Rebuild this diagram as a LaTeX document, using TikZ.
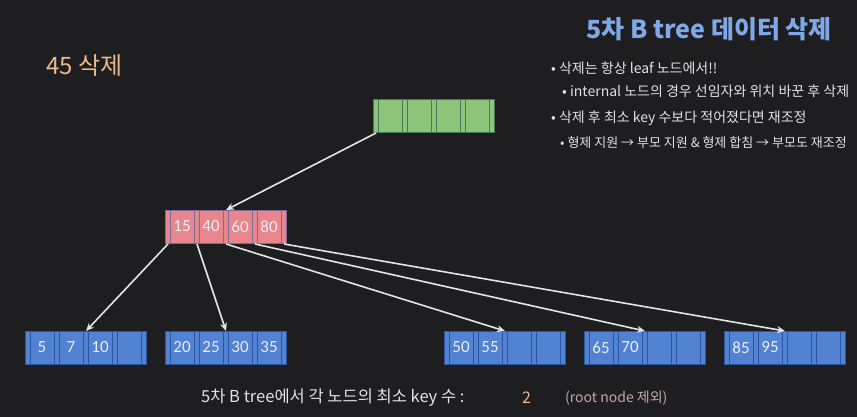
\documentclass[tikz,border=0pt]{standalone}
\usepackage{fontspec}
\setmainfont{Noto Sans CJK KR}
\newfontfamily\keyfont{Carlito}
\usetikzlibrary{arrows.meta}
\definecolor{bgdark}{RGB}{30,30,32}
\definecolor{rootfill}{RGB}{140,196,122}
\definecolor{rootline}{RGB}{70,122,92}
\definecolor{innerfill}{RGB}{232,134,142}
\definecolor{innerline}{RGB}{128,106,156}
\definecolor{leaffill}{RGB}{82,130,210}
\definecolor{leafline}{RGB}{42,86,160}
\definecolor{keytext}{RGB}{236,236,242}
\definecolor{titleblue}{RGB}{128,168,232}
\definecolor{delorange}{RGB}{232,186,140}
\definecolor{bodytext}{RGB}{226,226,226}
\definecolor{notetext}{RGB}{196,168,168}
\definecolor{arrowline}{RGB}{228,228,228}
\begin{document}
\begin{tikzpicture}[x=1pt,y=-1pt,>={Stealth[length=8pt,width=7pt]},
	rootbox/.style={draw=rootline,fill=rootfill,line width=1pt,inner sep=0pt},
	innerbox/.style={draw=innerline,fill=innerfill,line width=1pt,inner sep=0pt},
	leafbox/.style={draw=leafline,fill=leaffill,line width=1pt,inner sep=0pt},
	keylabel/.style={font=\keyfont\fontsize{17}{17}\selectfont,text=keytext,inner sep=0pt},
	ptr/.style={->,draw=arrowline,line width=1.6pt},
	txt/.style={anchor=west,inner sep=0pt}]
		%%Khung
		\fill[bgdark] (0,0) rectangle (857,417);
		\useasboundingbox (0,0) rectangle (857,417);
		\clip (0,0) rectangle (857,417);
		%%Kich thuoc o
		\def\pw{5}
		\def\kw{24}
		\def\nh{33}
		\def\btnode#1#2#3#4#5{%
			\node[#4,minimum width=121pt,minimum height=\nh pt,anchor=north west] (#1) at (#2,#3) {};
			\foreach \i in {0,...,4}
				\node[#4,minimum width=\pw pt,minimum height=\nh pt,anchor=north west] (#1-p\i) at ({#2+\i*(\pw+\kw)},#3) {};
			\foreach \k [count=\j from 0] in {#5}
				\node[keylabel] (#1-k\j) at ({#2+\pw+\j*(\pw+\kw)+\kw/2},{#3+\nh/2}) {\k};
		}
		%%Cac nut
		\btnode{root}{373}{99}{rootbox}{{},{},{},{}}
		\btnode{inner}{165}{210}{innerbox}{15,40,60,80}
		\btnode{leafA}{25}{331}{leafbox}{5,7,10,{}}
		\btnode{leafB}{165}{331}{leafbox}{20,25,30,35}
		\btnode{leafC}{444}{331}{leafbox}{50,55,{},{}}
		\btnode{leafD}{584}{331}{leafbox}{65,70,{},{}}
		\btnode{leafE}{724}{331}{leafbox}{85,95,{},{}}
		%%Con tro
		\draw[ptr] (root-p0.south) -- (inner-p2.north);
		\foreach \a/\b in {0/leafA,1/leafB,2/leafC,3/leafD,4/leafE}
			\draw[ptr] (inner-p\a.south) -- (\b-p2.north);
		%%Chu
		\node[txt,text=titleblue,font=\bfseries\fontsize{25}{25}\selectfont] (title) at (586,29) {5차 B tree 데이터 삭제};
		\node[txt,text=delorange,font=\fontsize{24}{24}\selectfont] (del) at (46,66) {45 삭제};
		\node[txt,text=bodytext,font=\fontsize{14}{14}\selectfont] (b1) at (551,68) {• 삭제는 항상 leaf 노드에서!!};
		\node[txt,text=bodytext,font=\fontsize{14}{14}\selectfont] (b2) at (562,91) {• internal 노드의 경우 선임자와 위치 바꾼 후 삭제};
		\node[txt,text=bodytext,font=\fontsize{14}{14}\selectfont] (b3) at (551,118) {• 삭제 후 최소 key 수보다 적어졌다면 재조정};
		\node[txt,text=bodytext,font=\fontsize{13}{13}\selectfont] (b4) at (560,143) {• 형제 지원 → 부모 지원 \& 형제 합침 → 부모도 재조정};
		\node[txt,text=bodytext,font=\fontsize{16.5}{16.5}\selectfont] (minkey) at (201,398) {5차 B tree에서 각 노드의 최소 key 수 :};
		\node[txt,text=delorange,font=\fontsize{16}{16}\selectfont] (minval) at (522,398) {2};
		\node[txt,text=notetext,font=\fontsize{14}{14}\selectfont] (note) at (565,398) {(root node 제외)};
	\end{tikzpicture}
\end{document}
